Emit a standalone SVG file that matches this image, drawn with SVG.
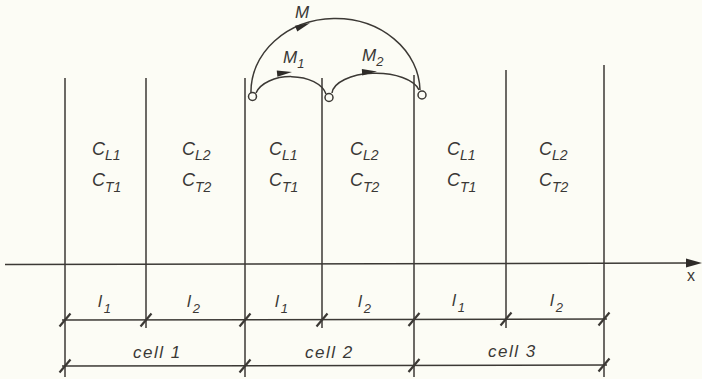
<svg xmlns="http://www.w3.org/2000/svg" xmlns:xlink="http://www.w3.org/1999/xlink" width="702" height="379" viewBox="0 0 702 379">
<style>
.ln{stroke:#3c3935;stroke-width:1.5;fill:none}
.tk{stroke:#3c3935;stroke-width:2.2;fill:none}
.t{font-family:"Liberation Sans",Arial,sans-serif;font-style:italic;fill:#3a3835}
.big{font-size:18px}
.sub{font-size:14px}
.lab{font-size:17px}
.cl{font-size:17px;letter-spacing:1.5px}
.ls{font-size:13px}
.nd{stroke:#3c3935;stroke-width:1.5;fill:#fcfcf5}
</style>
<defs>
<path id="tick" d="M-5.5,6.5 L5.5,-6.5" class="tk"/>
<path id="ah" d="M0,0 L-15,-3.2 L-15,3.2 Z" fill="#2e2b28"/>
</defs>
<rect width="702" height="379" fill="#fcfcf5"/>
<g id="grid">
<line class="ln" x1="65" y1="78" x2="65" y2="377"/>
<line class="ln" x1="146" y1="78" x2="146" y2="328"/>
<line class="ln" x1="245" y1="78" x2="245" y2="377"/>
<line class="ln" x1="322" y1="78" x2="322" y2="328"/>
<line class="ln" x1="414" y1="75" x2="414" y2="377"/>
<line class="ln" x1="506" y1="70" x2="506" y2="328"/>
<line class="ln" x1="604" y1="65" x2="604" y2="377"/>
</g>
<g id="axis">
<line class="ln" x1="5" y1="264.5" x2="688" y2="263"/>
<path d="M702,263 L686,258.5 L686,267.5 Z" fill="#2e2b28"/>
<text class="t lab" x="687" y="281" style="font-style:normal;font-size:16px">x</text>
</g>
<g id="cells">
<g id="c1"><text class="t big" x="92" y="155">C<tspan class="sub" dy="5">L1</tspan></text><text class="t big" x="92" y="186">C<tspan class="sub" dy="6">T1</tspan></text></g>
<g id="c2"><text class="t big" x="182" y="155">C<tspan class="sub" dy="5">L2</tspan></text><text class="t big" x="182" y="186">C<tspan class="sub" dy="6">T2</tspan></text></g>
<g id="c3"><text class="t big" x="269" y="155">C<tspan class="sub" dy="5">L1</tspan></text><text class="t big" x="269" y="186">C<tspan class="sub" dy="6">T1</tspan></text></g>
<g id="c4"><text class="t big" x="350" y="155">C<tspan class="sub" dy="5">L2</tspan></text><text class="t big" x="350" y="186">C<tspan class="sub" dy="6">T2</tspan></text></g>
<g id="c5"><text class="t big" x="447" y="155">C<tspan class="sub" dy="5">L1</tspan></text><text class="t big" x="447" y="186">C<tspan class="sub" dy="6">T1</tspan></text></g>
<g id="c6"><text class="t big" x="539" y="155">C<tspan class="sub" dy="5">L2</tspan></text><text class="t big" x="539" y="186">C<tspan class="sub" dy="6">T2</tspan></text></g>
</g>
<g id="connectors">
<path class="ln" d="M251,93 A84.5 73 0 0 1 420,90"/>
<path class="ln" d="M256,93 A36 22 0 0 1 326,94"/>
<path class="ln" d="M332,93 A44 21 0 0 1 419,90"/>
<use xlink:href="#ah" href="#ah" transform="translate(310,23) rotate(-22)"/>
<use xlink:href="#ah" href="#ah" transform="translate(292,72) rotate(-6)"/>
<use xlink:href="#ah" href="#ah" transform="translate(377,71.5) rotate(-3)"/>
</g>
<g id="n1"><circle class="nd" cx="252.5" cy="96.5" r="4"/></g>
<g id="n2"><circle class="nd" cx="329" cy="97.5" r="4"/></g>
<g id="n3"><circle class="nd" cx="422" cy="95" r="4"/></g>
<g id="labels">
<text class="t lab" x="295" y="18">M</text>
<text class="t lab" x="283" y="63">M<tspan class="ls" dy="5">1</tspan></text>
<text class="t lab" x="362" y="61">M<tspan class="ls" dy="5">2</tspan></text>
</g>
<g id="dims">
<line class="ln" x1="62" y1="320" x2="607" y2="319"/>
<line class="ln" x1="62" y1="366" x2="607" y2="365"/>
<use xlink:href="#tick" href="#tick" x="65" y="320"/>
<use xlink:href="#tick" href="#tick" x="146" y="320"/>
<use xlink:href="#tick" href="#tick" x="245" y="320"/>
<use xlink:href="#tick" href="#tick" x="322" y="320"/>
<use xlink:href="#tick" href="#tick" x="414" y="319.5"/>
<use xlink:href="#tick" href="#tick" x="506" y="319"/>
<use xlink:href="#tick" href="#tick" x="604" y="319"/>
<use xlink:href="#tick" href="#tick" x="65" y="366"/>
<use xlink:href="#tick" href="#tick" x="245" y="366"/>
<use xlink:href="#tick" href="#tick" x="414" y="365.5"/>
<use xlink:href="#tick" href="#tick" x="604" y="365"/>
<text class="t lab" x="98" y="307">l<tspan class="ls" dy="6" dx="2">1</tspan></text>
<text class="t lab" x="187" y="307">l<tspan class="ls" dy="6" dx="2">2</tspan></text>
<text class="t lab" x="275" y="307">l<tspan class="ls" dy="6" dx="2">1</tspan></text>
<text class="t lab" x="358" y="307">l<tspan class="ls" dy="6" dx="2">2</tspan></text>
<text class="t lab" x="452" y="306">l<tspan class="ls" dy="6" dx="2">1</tspan></text>
<text class="t lab" x="550" y="306">l<tspan class="ls" dy="6" dx="2">2</tspan></text>
<text class="t cl" x="133" y="358">cell 1</text>
<text class="t cl" x="305" y="358">cell 2</text>
<text class="t cl" x="488" y="357">cell 3</text>
</g>
</svg>
